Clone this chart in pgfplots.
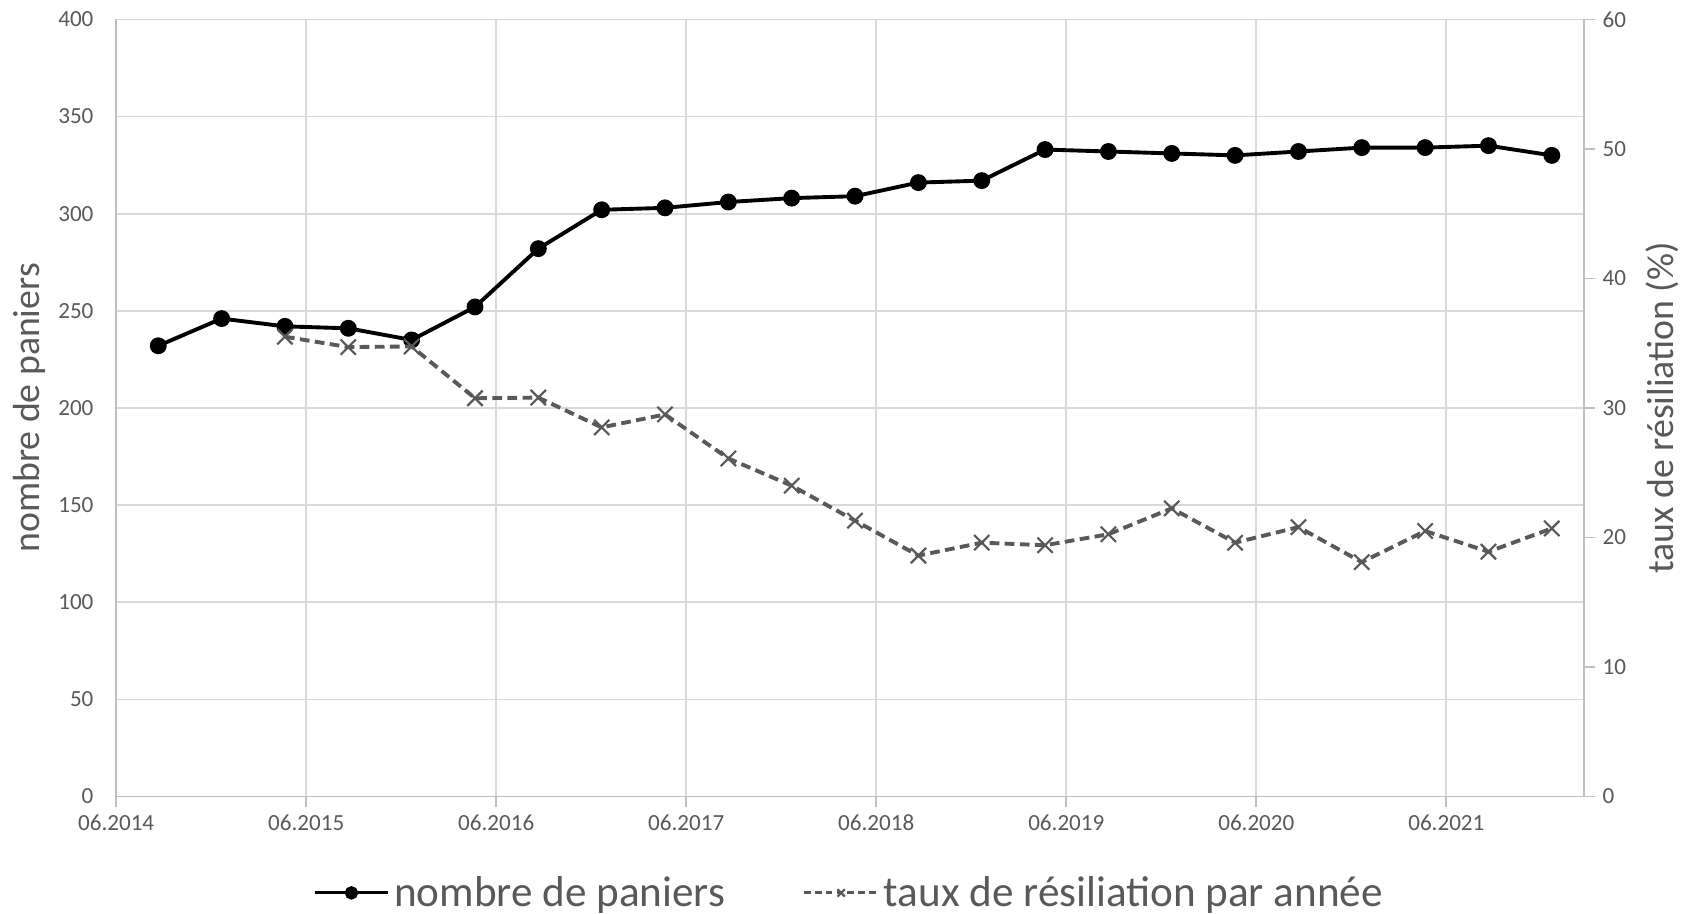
\documentclass[border=0pt]{standalone}
\usepackage{fontspec}
\setmainfont{Carlito}
\usepackage{pgfplots}
\usepackage{pgfplotstable}
\pgfplotsset{compat=1.18}
\definecolor{txt}{HTML}{595959}
\definecolor{grd}{HTML}{D9D9D9}
\definecolor{axl}{HTML}{BFBFBF}
\definecolor{ser}{HTML}{595959}

% x = months after 06.2014
\pgfplotstableread{
m paniers
2.66 232
6.66 246
10.66 242
14.66 241
18.66 235
22.66 252
26.66 282
30.66 302
34.66 303
38.66 306
42.66 308
46.66 309
50.66 316
54.66 317
58.66 333
62.66 332
66.66 331
70.66 330
74.66 332
78.66 334
82.66 334
86.66 335
90.66 330
}\paniers

\pgfplotstableread{
m taux
10.66 35.5
14.66 34.7
18.66 34.75
22.66 30.75
26.66 30.8
30.66 28.5
34.66 29.5
38.66 26.1
42.66 24.0
46.66 21.3
50.66 18.6
54.66 19.6
58.66 19.4
62.66 20.25
66.66 22.25
70.66 19.6
74.66 20.8
78.66 18.1
82.66 20.5
86.66 18.9
90.66 20.7
}\taux

\pgfplotsset{
  common/.style={
    width=680pt, height=360pt, scale only axis,
    xmin=0, xmax=92.7,
    /pgf/number format/assume math mode=true,
    tick label style={font=\fontsize{10.7}{12}\selectfont, text=txt},
    label style={font=\fontsize{17.5}{20}\selectfont, text=txt},
    tick align=outside,
  },
  panstyle/.style={black, line width=1.8pt, mark=*, mark size=3pt, mark options={solid}},
  tauxstyle/.style={ser, line width=1.8pt, dash pattern=on 4.5pt off 2.5pt, mark=x, mark size=5pt, mark options={solid, line width=1pt}},
}

\begin{document}
\begin{tikzpicture}
\begin{axis}[
  common,
  ymin=0, ymax=400,
  ytick={0,50,...,400},
  xtick={0,12,...,84},
  xticklabels={06.2014,06.2015,06.2016,06.2017,06.2018,06.2019,06.2020,06.2021},
  axis x line*=bottom, axis y line*=left,
  axis line style={axl, line width=0.8pt},
  grid=major,
  major grid style={grd, line width=0.8pt},
  ytick style={draw=none},
  xtick style={axl, line width=0.8pt},
  major tick length=5pt,
  yticklabel style={anchor=east, xshift=-2pt},
  ylabel={nombre de paniers},
  ylabel style={at={(axis description cs:-0.0588,0.5)}, anchor=center, rotate=0},
  legend style={at={(0.5,-0.124)}, anchor=center, draw=none, fill=none,
    inner sep=0pt, outer sep=0pt,
    legend columns=2, font=\fontsize{20}{23}\selectfont, text=txt,
    /tikz/every even column/.append style={column sep=34pt}},
  legend image code/.code={\draw[mark repeat=2,mark phase=2,line width=1.4pt,mark size=2.4pt] plot coordinates {(0cm,0cm) (0.6cm,0cm) (1.2cm,0cm)};},
]
\addplot[panstyle] table[x=m, y=paniers] {\paniers};
\addlegendentry{nombre de paniers}
\addlegendimage{tauxstyle, mark size=3.5pt, dash pattern=on 3pt off 2pt}
\addlegendentry{taux de résiliation par année}
\end{axis}
\begin{axis}[
  common,
  ymin=0, ymax=60,
  ytick={0,10,...,60},
  axis x line=none, axis y line*=right,
  axis line style={axl, line width=0.8pt},
  ytick style={axl, line width=0.8pt},
  major tick length=5pt,
  yticklabel style={anchor=west, xshift=0pt},
  ylabel={taux de résiliation (\%)},
  ylabel style={at={(axis description cs:1.053,0.5)}, anchor=center, rotate=0},
]
\addplot[tauxstyle] table[x=m, y=taux] {\taux};
\end{axis}
\path ([xshift=-3pt]current bounding box.west) ([xshift=3pt]current bounding box.east)
  ([yshift=2pt]current bounding box.north);
\end{tikzpicture}
\end{document}
